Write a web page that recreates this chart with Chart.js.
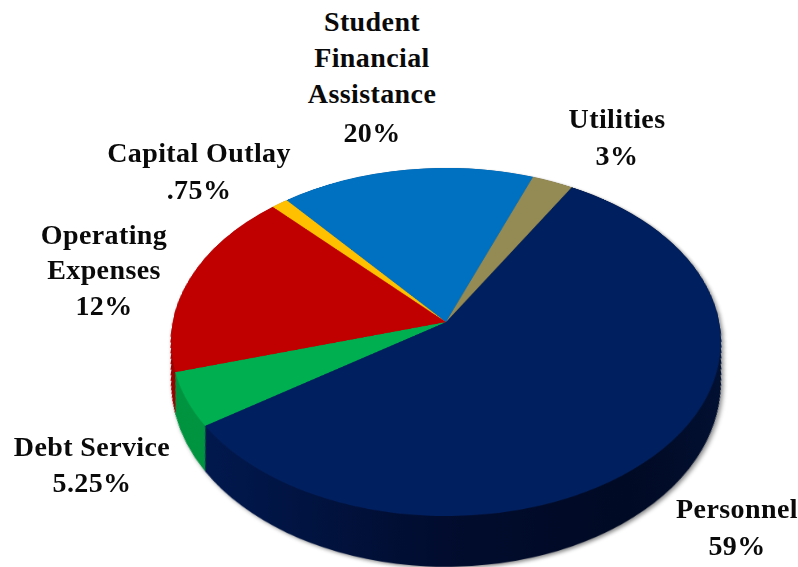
<!DOCTYPE html>
<html>
<head>
<meta charset="utf-8">
<title>Budget pie</title>
<script src="https://cdn.jsdelivr.net/npm/chart.js"></script>
<style>
html, body { margin: 0; padding: 0; background: #fff; }
#stage { position: relative; width: 798px; height: 567px; overflow: hidden; }
#stage canvas { position: absolute; transform-origin: center center; }
#side { filter: drop-shadow(2px 2px 2px rgba(0,0,0,.45)); }
.lbl {
  position: absolute;
  transform: translate(-50%, -50%);
  white-space: nowrap;
  font: bold 28px "Liberation Serif", serif;
  letter-spacing: 0.4px;
  color: #0a0a0a;
}
</style>
</head>
<body>
<div id="stage">
  <canvas id="side" width="712" height="712"></canvas>
  <canvas id="top" width="712" height="712"></canvas>
</div>
<script>
const categories = ["Personnel", "Debt Service", "Operating Expenses", "Capital Outlay", "Student Financial Assistance", "Utilities"];
// slice sizes as drawn in the picture, the printed labels do not match them for operating/student
const sliceShares = [57, 5, 17.5, 1.1, 16.7, 2.7];
const printedShares = ["59%", "5.25%", "12%", ".75%", "20%", "3%"];
const topColors = ["#001f5e", "#00b050", "#c00000", "#ffc000", "#0070c0", "#948a54"];
const sideColors = ["#011240", "#009440", "#9c0000", "#c89600", "#005090", "#6e663e"];

// label lines and where each block goes: [center x, y of each line]
const labelLines = [
  ["Personnel"],
  ["Debt Service"],
  ["Operating", "Expenses"],
  ["Capital Outlay"],
  ["Student", "Financial", "Assistance"],
  ["Utilities"],
];
const labelPos = [
  [737, [509, 546]],
  [92, [447, 483]],
  [104, [235, 270, 306]],
  [199, [153, 190]],
  [372, [22, 58, 94, 133]],
  [617, [119, 156]],
];

const R = 276, PAD = 80, HALF = R + PAD;
const apexX = 445.5, apexY = 322;
const persp = [273 / R, 171.7 / R, -0.115 / R];
const DEPTH = 62;

function place(id) {
  const c = document.getElementById(id);
  c.style.left = (apexX - HALF) + "px";
  c.style.top = (apexY - HALF) + "px";
  c.style.transform = `matrix3d(${persp[0]},0,0,0, 0,${persp[1]},0,${persp[2]}, 0,0,1,0, 0,0,0,1)`;
  return c;
}

const baseOptions = {
  responsive: false,
  maintainAspectRatio: false,
  animation: false,
  rotation: 30.4,
  layout: { padding: PAD },
  plugins: { legend: { display: false }, tooltip: { enabled: false } },
};

// pile the arcs downward to get the rim of the pie
const extrude = {
  id: "extrude",
  beforeDatasetsDraw(chart) {
    const ctx = chart.ctx;
    const arcs = chart.getDatasetMeta(0).data;
    for (let k = DEPTH; k >= 1; k--) {
      ctx.save();
      ctx.translate(HALF, HALF + k);
      ctx.scale(1 + persp[2] * k * 1.05, 1);
      ctx.translate(-HALF, -HALF);
      arcs.forEach((a) => a.draw(ctx));
      ctx.restore();
    }
  },
};

const sideCanvas = place("side");
const g = sideCanvas.getContext("2d").createLinearGradient(PAD, 0, PAD + 2 * R, 0);
g.addColorStop(0, "#011a52");
g.addColorStop(0.15, "#01174a");
g.addColorStop(0.5, "#010c2e");
g.addColorStop(0.8, "#010a24");
g.addColorStop(1, "#021032");
const sideFill = sideColors.slice();
sideFill[0] = g;

new Chart(sideCanvas, {
  type: "pie",
  data: { labels: categories, datasets: [{ data: sliceShares, backgroundColor: sideFill, borderWidth: 0 }] },
  options: baseOptions,
  plugins: [extrude],
});

new Chart(place("top"), {
  type: "pie",
  data: { labels: categories, datasets: [{ data: sliceShares, backgroundColor: topColors, borderWidth: 0 }] },
  options: baseOptions,
});

const stage = document.getElementById("stage");
labelLines.forEach((lines, i) => {
  const [x, ys] = labelPos[i];
  lines.concat(printedShares[i]).forEach((t, j) => {
    const el = document.createElement("div");
    el.className = "lbl";
    el.textContent = t;
    el.style.left = x + "px";
    el.style.top = ys[j] + "px";
    stage.appendChild(el);
  });
});
</script>
</body>
</html>
